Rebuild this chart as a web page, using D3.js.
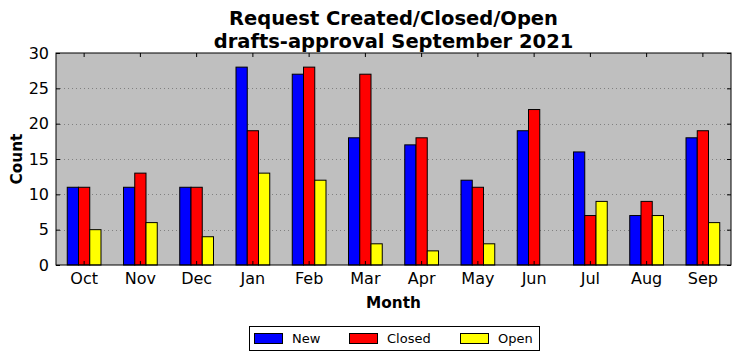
<!DOCTYPE html>
<html>
<head>
<meta charset="utf-8">
<script src="https://cdnjs.cloudflare.com/ajax/libs/d3/7.8.5/d3.min.js"></script>
<style>
body { margin: 0; background: #fff; }
text { font-family: "DejaVu Sans", sans-serif; }
</style>
</head>
<body>
<div class="container"></div>
<script>
// chart data
var months = ["Oct","Nov","Dec","Jan","Feb","Mar","Apr","May","Jun","Jul","Aug","Sep"];
var seriesNames = ["New","Closed","Open"];
var newVals = [11,11,11,28,27,18,17,12,19,16,7,18];
var closedVals = [11,13,11,19,28,27,18,11,22,7,9,19];
var openVals = [5,6,4,13,12,3,2,3,0,9,7,6];
var yTicks = [0,5,10,15,20,25,30];
var colors = ["#0000ff","#ff0000","#ffff00"];

var W = 742, H = 361;
var pLeft = 56, pRight = 731, pTop = 53, pBottom = 265;

var svg = d3.select(".container").append("svg")
  .attr("width", W).attr("height", H);

var x = d3.scaleBand().domain(months).range([pLeft, pRight]);
var y = d3.scaleLinear().domain([0, 30]).range([pBottom, pTop]);
var bw = x.bandwidth() * 0.2;
var allVals = [newVals, closedVals, openVals];

// plot background
svg.append("rect")
  .attr("x", pLeft).attr("y", pTop)
  .attr("width", pRight - pLeft).attr("height", pBottom - pTop)
  .attr("fill", "#bfbfbf");

// grid
svg.selectAll("line.grid").data(yTicks.slice(1, -1)).enter().append("line")
  .attr("class", "grid")
  .attr("x1", pLeft).attr("x2", pRight)
  .attr("y1", function(d) { return Math.round(y(d)) + 0.5; })
  .attr("y2", function(d) { return Math.round(y(d)) + 0.5; })
  .attr("stroke", "#808080").attr("stroke-width", 1)
  .attr("stroke-dasharray", "1,3");

// bars
allVals.forEach(function(vals, si) {
  svg.selectAll("rect.s" + si).data(vals).enter().append("rect")
    .attr("class", "s" + si)
    .attr("x", function(d, i) { return x(months[i]) + x.bandwidth() * 0.2 + si * bw; })
    .attr("y", function(d) { return y(d); })
    .attr("width", bw)
    .attr("height", function(d) { return pBottom - y(d); })
    .attr("fill", colors[si])
    .attr("stroke", "#000").attr("stroke-width", 1);
});

// axes (ticks inward, all sides)
var xb = svg.append("g").attr("transform", "translate(0," + pBottom + ")")
  .call(d3.axisBottom(x).tickSize(-4).tickPadding(8));
var xt = svg.append("g").attr("transform", "translate(0," + pTop + ")")
  .call(d3.axisTop(x).tickSize(-4).tickFormat(""));
var yl = svg.append("g").attr("transform", "translate(" + pLeft + ",0)")
  .call(d3.axisLeft(y).tickValues(yTicks).tickSize(-4).tickPadding(7));
var yr = svg.append("g").attr("transform", "translate(" + pRight + ",0)")
  .call(d3.axisRight(y).tickValues(yTicks).tickSize(-4).tickFormat(""));

[xb, xt, yl, yr].forEach(function(g) {
  g.select(".domain").remove();
  g.selectAll("text").attr("font-size", 16).attr("font-family", "DejaVu Sans").attr("fill", "#000");
  g.selectAll("line").attr("stroke", "#000");
});

svg.append("rect")
  .attr("x", pLeft).attr("y", pTop)
  .attr("width", pRight - pLeft).attr("height", pBottom - pTop)
  .attr("fill", "none").attr("stroke", "#000").attr("stroke-width", 1);

// titles
var cx = (pLeft + pRight) / 2;
svg.append("text").attr("x", cx).attr("y", 25).attr("text-anchor", "middle")
  .attr("font-size", 19.5).attr("font-weight", "bold").text("Request Created/Closed/Open");
svg.append("text").attr("x", cx).attr("y", 48).attr("text-anchor", "middle")
  .attr("font-size", 19.5).attr("font-weight", "bold").text("drafts-approval September 2021");

svg.append("text").attr("x", cx).attr("y", 308).attr("text-anchor", "middle")
  .attr("font-size", 15.3).attr("font-weight", "bold").text("Month");
svg.append("text").attr("transform", "translate(22," + ((pTop + pBottom) / 2) + ") rotate(-90)")
  .attr("text-anchor", "middle").attr("font-size", 15.3).attr("font-weight", "bold").text("Count");

// legend
var lg = svg.append("g");
lg.append("rect").attr("x", 249.5).attr("y", 326.5).attr("width", 290).attr("height", 24)
  .attr("fill", "#fff").attr("stroke", "#000").attr("stroke-width", 1);
var lx = [254, 349, 460];
seriesNames.forEach(function(n, i) {
  lg.append("rect").attr("x", lx[i] + 0.5).attr("y", 333.5).attr("width", 28).attr("height", 10)
    .attr("fill", colors[i]).attr("stroke", "#000");
  lg.append("text").attr("x", lx[i] + 38).attr("y", 343).attr("font-size", 13).text(n);
});
</script>
</body>
</html>
